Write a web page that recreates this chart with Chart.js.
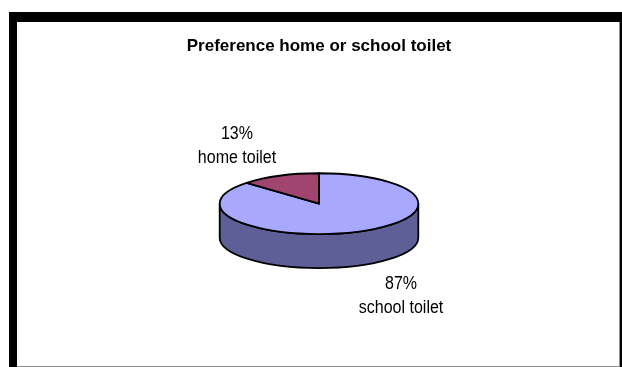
<!DOCTYPE html>
<html>
<head>
<meta charset="utf-8">
<script src="https://cdn.jsdelivr.net/npm/chart.js@4"></script>
<style>
  html, body { margin: 0; padding: 0; background: #fff; }
  body { width: 622px; height: 367px; position: relative; overflow: hidden; }
  #frame { position: absolute; left: 9px; top: 12px; width: 613px; height: 355px; background: #000; }
  #panel { position: absolute; left: 8px; top: 10px; width: 602px; height: 344px; background: #fff;
           border-right: 1px solid #8c8c8c; border-bottom: 1px solid #8c8c8c; }
  #chartToilet { position: absolute; left: 0; top: 0; }
</style>
</head>
<body>
<div id="frame"><div id="panel"></div></div>
<canvas id="chartToilet" width="622" height="367"></canvas>
<script>
// preference data (percent of pupils)
const labels = ["school toilet", "home toilet"]
const values = [87, 13]
const topColors = ["#a8a8ff", "#a1446f"]
const sideColors = ["#5f5f98", "#5c2740"]

// 3D look: vertical squash of the disc and thickness in px
const SQUASH = 0.3065
const DEPTH = 34

// draws the pie as a tilted disc using the arc geometry computed by Chart.js
const pie3d = {
    id: "pie3d",
    beforeDatasetsDraw(chart) {
        const ctx = chart.ctx
        const arcs = chart.getDatasetMeta(0).data
        ctx.save()
        ctx.lineWidth = 1.8
        ctx.strokeStyle = "#000"
        ctx.lineJoin = "round"

        // side wall, only the front half (0..PI) can be seen
        arcs.forEach((arc, i) => {
            const { x, y, startAngle, endAngle, outerRadius } = arc
            const ry = outerRadius * SQUASH
            for (const shift of [-2 * Math.PI, 0, 2 * Math.PI]) {
                const a = Math.max(startAngle, shift)
                const b = Math.min(endAngle, shift + Math.PI)
                if (b <= a) continue
                ctx.beginPath()
                ctx.ellipse(x, y, outerRadius, ry, 0, a, b)
                ctx.ellipse(x, y + DEPTH, outerRadius, ry, 0, b, a, true)
                ctx.closePath()
                ctx.fillStyle = sideColors[i]
                ctx.fill()
                ctx.stroke()
            }
        })

        // top face
        arcs.forEach((arc, i) => {
            const { x, y, startAngle, endAngle, outerRadius } = arc
            const ry = outerRadius * SQUASH
            ctx.beginPath()
            ctx.moveTo(x, y)
            ctx.ellipse(x, y, outerRadius, ry, 0, startAngle, endAngle)
            ctx.closePath()
            ctx.fillStyle = topColors[i]
            ctx.fill()
            ctx.stroke()
        })

        ctx.restore()
        return false // skip the flat default pie
    }
}

// "87%" / "school toilet" style labels outside each slice
const sliceLabels = {
    id: "sliceLabels",
    afterDraw(chart) {
        const ctx = chart.ctx
        const arcs = chart.getDatasetMeta(0).data
        ctx.save()
        ctx.font = "16px 'Liberation Sans', Arial, sans-serif"
        ctx.fillStyle = "#000"
        ctx.textAlign = "center"
        ctx.textBaseline = "middle"
        arcs.forEach((arc, i) => {
            const { x, y, startAngle, endAngle, outerRadius } = arc
            const mid = (startAngle + endAngle) / 2
            const lx = x + Math.cos(mid) * outerRadius * 2.08
            let ly = y + Math.sin(mid) * outerRadius * SQUASH * 2.08
            if (Math.sin(mid) > 0) ly += DEPTH
            const lines = [values[i] + "%", labels[i]]
            lines.forEach((t, k) => {
                ctx.save()
                ctx.translate(lx, ly + (k - 0.5) * 24)
                ctx.scale(1, 1.15)
                ctx.fillText(t, 0, 0)
                ctx.restore()
            })
        })
        ctx.restore()
    }
}

const ctx = document.getElementById("chartToilet")

new Chart(ctx, {
    type: "pie",
    data: {
        labels: labels,
        datasets: [{
            data: values,
            backgroundColor: topColors,
            borderWidth: 0
        }]
    },
    options: {
        responsive: false,
        animation: false,
        layout: {
            padding: { left: 16, right: 0, top: 0, bottom: 64 }
        },
        plugins: {
            legend: { display: false },
            tooltip: { enabled: false },
            title: {
                display: true,
                text: "Preference home or school toilet",
                color: "#000",
                font: {
                    family: "'Liberation Sans', Arial, sans-serif",
                    size: 17,
                    weight: "bold"
                },
                padding: { top: 36, bottom: 48 }
            }
        }
    },
    plugins: [pie3d, sliceLabels]
})
</script>
</body>
</html>
